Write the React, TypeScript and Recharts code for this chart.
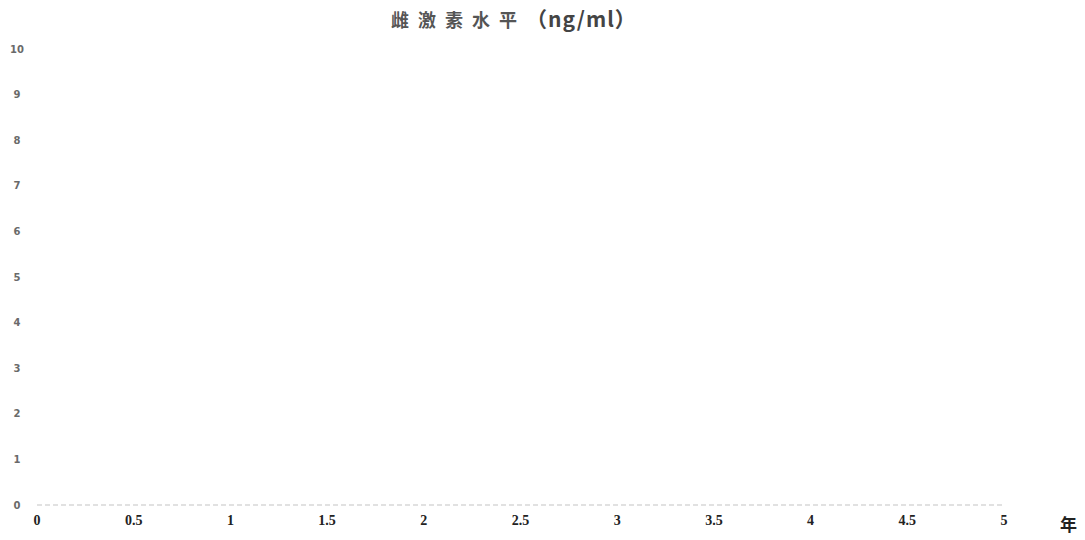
import React from 'react';
import { LineChart, Line, XAxis, YAxis } from 'recharts';

const years = [0, 0.5, 1, 1.5, 2, 2.5, 3, 3.5, 4, 4.5, 5];
const yTicks = [0, 1, 2, 3, 4, 5, 6, 7, 8, 9, 10];
const xTickLabels = ['0', '0.5', '1', '1.5', '2', '2.5', '3', '3.5', '4', '4.5', '5'];
const levels: (number | null)[] = [null, null, null, null, null, null, null, null, null, null, null];
const titleMain = '雌激素水平';
const titleUnit = '（ng/ml）';
const xUnit = '年';

const data = years.map((y, i) => ({ year: y, level: levels[i] }));

const YTick = (props: any) => {
  const { y, payload } = props;
  return (
    <text x={17} y={y} dy={3.5} textAnchor="middle" fontSize={10} fontWeight={700} fill="#6a6a6a" fontFamily="DejaVu Sans, sans-serif">
      {payload.value}
    </text>
  );
};

const XTick = (props: any) => {
  const { x, y, payload, index } = props;
  return (
    <text x={x} y={y} dy={12} textAnchor="middle" fontSize={14} fontWeight={700} fill="#222" fontFamily="Liberation Serif, serif">
      {xTickLabels[index] ?? payload.value}
    </text>
  );
};

export default function App() {
  return (
    <div style={{ position: 'absolute', left: 0, top: 0, width: 1085, height: 540, background: '#fff' }}>
      <div
        style={{
          position: 'absolute',
          left: 391,
          top: 6,
          whiteSpace: 'nowrap',
          color: '#555',
          fontSize: 18,
          fontWeight: 700,
          fontFamily: 'Noto Sans CJK SC, Noto Sans, sans-serif',
          lineHeight: '24px',
        }}
      >
        <span style={{ letterSpacing: 9 }}>{titleMain}</span>
        <span style={{ fontSize: 21, fontWeight: 600, letterSpacing: 1, color: '#444' }}>{titleUnit}</span>
      </div>
      <LineChart width={1085} height={540} data={data} margin={{ top: 49, right: 81, bottom: 5, left: 0 }}>
        <XAxis
          dataKey="year"
          type="number"
          domain={[0, 5]}
          ticks={years}
          tickLine={false}
          axisLine={{ stroke: '#c4c4c4', strokeDasharray: '5 3', strokeWidth: 1.2 }}
          tick={<XTick />}
          height={30}
          interval={0}
          label={{ value: xUnit, position: 'right', offset: 56, dy: 5, fontSize: 17, fontWeight: 700, fill: '#222', fontFamily: 'Noto Sans CJK SC, sans-serif' }}
        />
        <YAxis
          type="number"
          domain={[0, 10]}
          ticks={yTicks}
          width={37}
          tickLine={false}
          axisLine={false}
          tick={<YTick />}
          interval={0}
          allowDataOverflow
        />
        <Line dataKey="level" stroke="#999" dot={false} isAnimationActive={false} connectNulls={false} />
      </LineChart>
    </div>
  );
}
